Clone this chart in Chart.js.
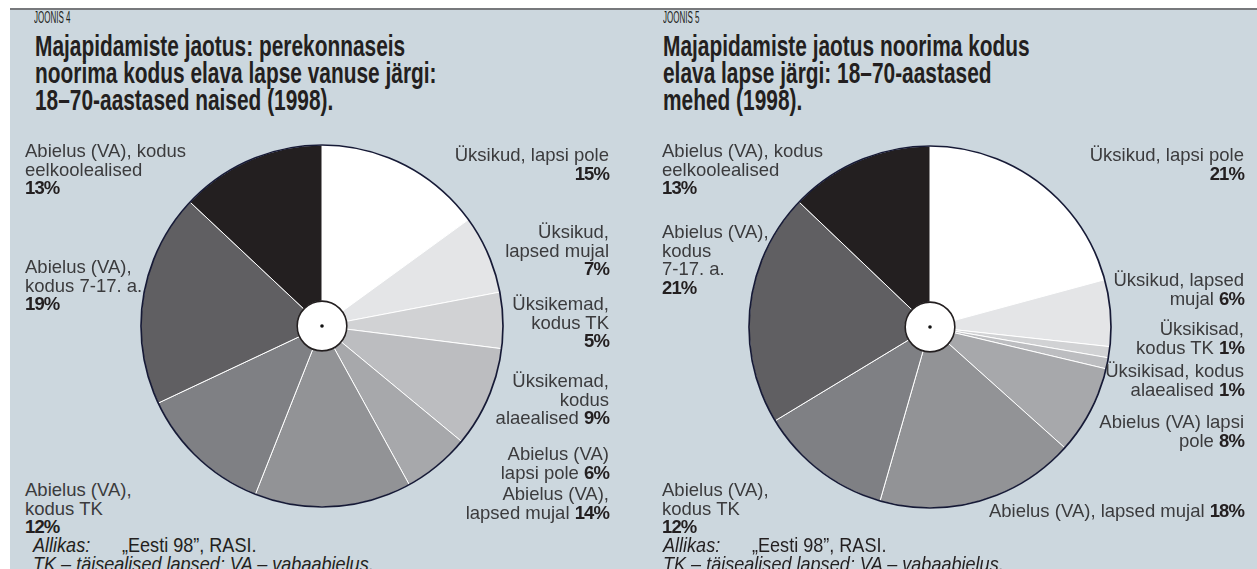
<!DOCTYPE html>
<html>
<head>
<meta charset="utf-8">
<script src="https://cdn.jsdelivr.net/npm/chart.js@4"></script>
<style>
  html, body { margin: 0; padding: 0; background: #fff; }
  #page { position: relative; width: 1257px; height: 569px; overflow: hidden; background: #fff; }
  #panel { position: absolute; left: 10px; top: 8px; right: 0; bottom: 0; background: #ccd7de; border-top: 2px solid #77797c; }
  canvas { position: absolute; }
  .t { position: absolute; white-space: nowrap; z-index: 2; }
  .joonis { font-family: "Liberation Sans", Arial, sans-serif; font-size: 16px; line-height: 16px; color: #231f20; transform: scaleX(0.5); transform-origin: left top; }
  .title { font-family: "Liberation Sans", Arial, sans-serif; font-weight: bold; font-size: 29px; line-height: 27px; color: #231f20; transform: scaleX(0.72); transform-origin: left top; }
  .lab { font-family: "Liberation Sans", Arial, sans-serif; font-size: 18.5px; line-height: 18.5px; color: #3b3b3d; }
  .lab b { font-weight: bold; color: #231f20; letter-spacing: -0.9px; }
  .r { text-align: right; }
  .foot { font-family: "Liberation Sans", Arial, sans-serif; font-size: 21px; line-height: 19px; color: #231f20; transform: scaleX(0.86); transform-origin: left top; }
</style>
</head>
<body>
<div id="page">
  <div id="panel"></div>

  <canvas id="womenChart" width="380" height="380" style="left:132px; top:136px;"></canvas>
  <canvas id="menChart" width="380" height="380" style="left:740px; top:137px;"></canvas>

  <!-- JOONIS 4 -->
  <div class="t joonis" style="left:34px; top:10px;">JOONIS 4</div>
  <div class="t title" style="left:35px; top:33px;">Majapidamiste jaotus: perekonnaseis<br>noorima kodus elava lapse vanuse järgi:<br>18–70-aastased naised (1998).</div>

  <div class="t lab" style="left:25px; top:142px;">Abielus (VA), kodus<br>eelkoolealised<br><b>13%</b></div>
  <div class="t lab" style="left:25px; top:258px;">Abielus (VA),<br>kodus 7-17. a.<br><b>19%</b></div>
  <div class="t lab" style="left:25px; top:481px;">Abielus (VA),<br>kodus TK<br><b>12%</b></div>

  <div class="t lab r" style="right:648px; top:146px;">Üksikud, lapsi pole<br><b>15%</b></div>
  <div class="t lab r" style="right:648px; top:223px;">Üksikud,<br>lapsed mujal<br><b>7%</b></div>
  <div class="t lab r" style="right:648px; top:295px;">Üksikemad,<br>kodus TK<br><b>5%</b></div>
  <div class="t lab r" style="right:648px; top:372px;">Üksikemad,<br>kodus<br>alaealised <b>9%</b></div>
  <div class="t lab r" style="right:648px; top:445px;">Abielus (VA)<br>lapsi pole <b>6%</b></div>
  <div class="t lab r" style="right:648px; top:485px;">Abielus (VA),<br>lapsed mujal <b>14%</b></div>

  <div class="t foot" style="left:33px; top:535px;"><i>Allikas:</i></div>
  <div class="t foot" style="left:122px; top:535px;">„Eesti 98”, RASI.</div>
  <div class="t foot" style="left:33px; top:554px;"><i>TK – täisealised lapsed; VA – vabaabielus.</i></div>

  <!-- JOONIS 5 -->
  <div class="t joonis" style="left:663px; top:10px;">JOONIS 5</div>
  <div class="t title" style="left:663px; top:33px;">Majapidamiste jaotus noorima kodus<br>elava lapse järgi: 18–70-aastased<br>mehed (1998).</div>

  <div class="t lab" style="left:662px; top:142px;">Abielus (VA), kodus<br>eelkoolealised<br><b>13%</b></div>
  <div class="t lab" style="left:662px; top:223px;">Abielus (VA),<br>kodus<br>7-17. a.<br><b>21%</b></div>
  <div class="t lab" style="left:662px; top:481px;">Abielus (VA),<br>kodus TK<br><b>12%</b></div>

  <div class="t lab r" style="right:13px; top:146px;">Üksikud, lapsi pole<br><b>21%</b></div>
  <div class="t lab r" style="right:13px; top:271px;">Üksikud, lapsed<br>mujal <b>6%</b></div>
  <div class="t lab r" style="right:13px; top:320px;">Üksikisad,<br>kodus TK <b>1%</b></div>
  <div class="t lab r" style="right:13px; top:362px;">Üksikisad, kodus<br>alaealised <b>1%</b></div>
  <div class="t lab r" style="right:13px; top:413px;">Abielus (VA) lapsi<br>pole <b>8%</b></div>
  <div class="t lab r" style="right:13px; top:502px;">Abielus (VA), lapsed mujal <b>18%</b></div>

  <div class="t foot" style="left:663px; top:535px;"><i>Allikas:</i></div>
  <div class="t foot" style="left:752px; top:535px;">„Eesti 98”, RASI.</div>
  <div class="t foot" style="left:663px; top:554px;"><i>TK – täisealised lapsed; VA – vabaabielus.</i></div>
</div>

<script>
// slices go clockwise from 12 o'clock

const womenLabels = [
    "Üksikud, lapsi pole",
    "Üksikud, lapsed mujal",
    "Üksikemad, kodus TK",
    "Üksikemad, kodus alaealised",
    "Abielus (VA) lapsi pole",
    "Abielus (VA), lapsed mujal",
    "Abielus (VA), kodus TK",
    "Abielus (VA), kodus 7-17. a.",
    "Abielus (VA), kodus eelkoolealised"
];
const womenValues = [15, 7, 5, 9, 6, 14, 12, 19, 13];

const menLabels = [
    "Üksikud, lapsi pole",
    "Üksikud, lapsed mujal",
    "Üksikisad, kodus TK",
    "Üksikisad, kodus alaealised",
    "Abielus (VA) lapsi pole",
    "Abielus (VA), lapsed mujal",
    "Abielus (VA), kodus TK",
    "Abielus (VA), kodus 7-17. a.",
    "Abielus (VA), kodus eelkoolealised"
];
const menValues = [21, 6, 1, 1, 8, 18, 12, 21, 13];

const greys = ["#ffffff", "#e4e5e7", "#d1d2d4", "#bcbdc0", "#a7a8ab", "#929396", "#7f8084", "#605f62", "#231f20"];


// white hub in the middle + dark rim round the pie
const hubPlugin = {
    id: "hub",
    afterDatasetsDraw(chart) {
        const arc = chart.getDatasetMeta(0).data[0];
        const p = arc.getProps(["x", "y", "outerRadius", "innerRadius"], true);
        const ctx = chart.ctx;
        ctx.save();

        ctx.strokeStyle = "#161a36";
        ctx.lineWidth = 1.7;
        ctx.beginPath();
        ctx.arc(p.x, p.y, p.outerRadius, 0, Math.PI * 2);
        ctx.stroke();

        ctx.fillStyle = "#ffffff";
        ctx.strokeStyle = "#231f20";
        ctx.lineWidth = 1.6;
        ctx.beginPath();
        ctx.arc(p.x, p.y, p.innerRadius, 0, Math.PI * 2);
        ctx.fill();
        ctx.stroke();

        ctx.fillStyle = "#111";
        ctx.beginPath();
        ctx.arc(p.x, p.y, 1.8, 0, Math.PI * 2);
        ctx.fill();

        ctx.restore();
    }
};

function makePie(id, labels, values) {
    return new Chart(document.getElementById(id), {
        type: "doughnut",
        data: {
            labels: labels,
            datasets: [{
                data: values,
                backgroundColor: greys,
                borderColor: "#ffffff",
                borderWidth: 1,
                hoverOffset: 0
            }]
        },
        options: {
            responsive: false,
            animation: false,
            radius: 181,
            cutout: 26,
            layout: { padding: 0 },
            plugins: {
                legend: { display: false },
                tooltip: { enabled: false }
            }
        },
        plugins: [hubPlugin]
    });
}

makePie("womenChart", womenLabels, womenValues);
makePie("menChart", menLabels, menValues);
</script>
</body>
</html>
